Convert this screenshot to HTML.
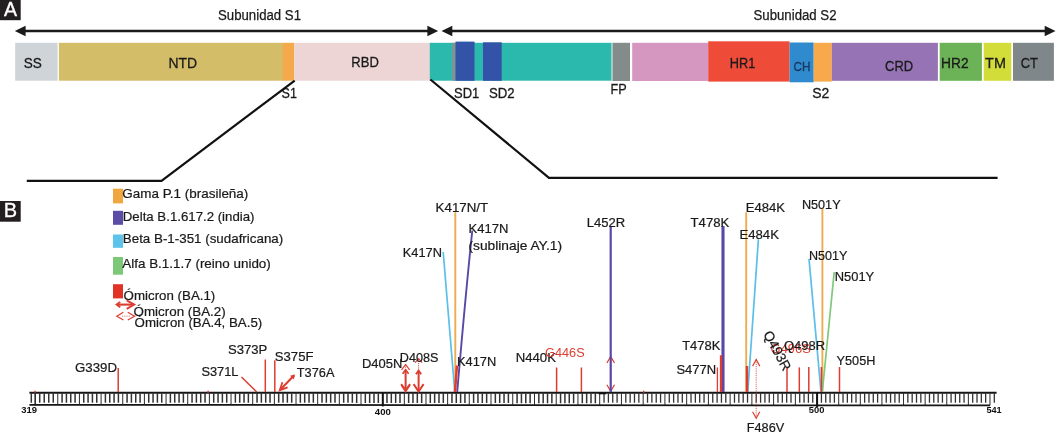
<!DOCTYPE html>
<html lang="es"><head><meta charset="utf-8"><title>Proteína S</title>
<style>
html,body{margin:0;padding:0;background:#fff;}
body{width:1058px;height:435px;overflow:hidden;}
svg{display:block;font-family:"Liberation Sans",sans-serif;}
.t{font-size:13.6px;fill:#1a1a1a;stroke:#1a1a1a;stroke-width:.22px;}
.a{font-size:13px;fill:#1a1a1a;}
.n{font-size:8.9px;font-weight:bold;fill:#111;}
</style></head><body>
<svg width="1058" height="435" viewBox="0 0 1058 435">
<rect width="1058" height="435" fill="#fff"/>

<rect x="0" y="0" width="20.7" height="20.2" fill="#231f20"/>
<text x="10.5" y="15.5" text-anchor="middle" font-size="19.5" fill="#fff" stroke="#fff" stroke-width="0.35">A</text>
<rect x="0" y="201" width="20.7" height="20.7" fill="#231f20"/>
<text x="10.5" y="217.2" text-anchor="middle" font-size="20" fill="#fff" stroke="#fff" stroke-width="0.35">B</text>
<line x1="23.6" y1="31" x2="429.4" y2="31" stroke="#1a1a1a" stroke-width="2.3"/><polygon points="14.8,31 25.6,25.7 25.6,36.3" fill="#1a1a1a"/><polygon points="438.2,31 427.4,25.7 427.4,36.3" fill="#1a1a1a"/>
<line x1="450.3" y1="31" x2="1046.7" y2="31" stroke="#1a1a1a" stroke-width="2.3"/><polygon points="441.5,31 452.3,25.7 452.3,36.3" fill="#1a1a1a"/><polygon points="1055.5,31 1044.7,25.7 1044.7,36.3" fill="#1a1a1a"/>
<text x="218" y="19.5" font-size="14" fill="#1a1a1a" stroke="#1a1a1a" stroke-width="0.25" textLength="83" lengthAdjust="spacingAndGlyphs">Subunidad S1</text>
<text x="753.5" y="19.5" font-size="14" fill="#1a1a1a" stroke="#1a1a1a" stroke-width="0.25" textLength="83" lengthAdjust="spacingAndGlyphs">Subunidad S2</text>
<rect x="15.2" y="42.8" width="42.4" height="37.9" fill="#cfd4d9"/>
<rect x="58.9" y="42.8" width="224.1" height="37.9" fill="#d4bd69"/>
<rect x="282.8" y="42.8" width="11.6" height="37.9" fill="#f4a94b"/>
<rect x="294.4" y="42.8" width="135.6" height="37.9" fill="#edd5d5"/>
<rect x="429.8" y="42.8" width="181.8" height="37.9" fill="#2cb9ad"/>
<rect x="452.2" y="42.8" width="3.3" height="37.9" fill="#8a8f90"/>
<rect x="455.5" y="41.6" width="19.0" height="39.2" fill="#3253a8"/>
<rect x="483" y="42.3" width="18.7" height="38.5" fill="#3253a8"/>
<rect x="611.6" y="42.8" width="1.0" height="38.1" fill="#a9d6d0"/>
<rect x="612.6" y="42.8" width="17.4" height="38.2" fill="#848b8b"/>
<rect x="632.2" y="42.8" width="76.0" height="38.2" fill="#d596bf"/>
<rect x="708.2" y="41.3" width="81.4" height="40.3" fill="#ee4c39"/>
<rect x="789.6" y="42.5" width="24.1" height="39.8" fill="#2f8bcd"/>
<rect x="813.7" y="42.8" width="18.1" height="38.8" fill="#f7a94c"/>
<rect x="831.8" y="42.8" width="106.1" height="38.0" fill="#9673b4"/>
<rect x="939.7" y="42.8" width="42.2" height="38.0" fill="#6bb356"/>
<rect x="983.7" y="42.8" width="27.6" height="38.0" fill="#d3dd3a"/>
<rect x="1013" y="42.8" width="40.9" height="38.0" fill="#80878a"/>
<text x="23.7" y="68.2" font-size="15.5" fill="#1a1a1a" stroke="#1a1a1a" stroke-width="0.3" textLength="18.1" lengthAdjust="spacingAndGlyphs">SS</text>
<text x="168.5" y="68.2" font-size="15.5" fill="#1a1a1a" stroke="#1a1a1a" stroke-width="0.3" textLength="28.7" lengthAdjust="spacingAndGlyphs">NTD</text>
<text x="351.3" y="66.6" font-size="15.5" fill="#1a1a1a" stroke="#1a1a1a" stroke-width="0.3" textLength="27.5" lengthAdjust="spacingAndGlyphs">RBD</text>
<text x="729.8" y="68.3" font-size="15.5" fill="#1a1a1a" stroke="#1a1a1a" stroke-width="0.3" textLength="25.5" lengthAdjust="spacingAndGlyphs">HR1</text>
<text x="793.5" y="70.9" font-size="13" fill="#17375e" stroke="#17375e" stroke-width="0.3" textLength="17" lengthAdjust="spacingAndGlyphs">CH</text>
<text x="885.1" y="71" font-size="15.5" fill="#1a1a1a" stroke="#1a1a1a" stroke-width="0.3" textLength="28.1" lengthAdjust="spacingAndGlyphs">CRD</text>
<text x="941.1" y="68" font-size="15.5" fill="#1a1a1a" stroke="#1a1a1a" stroke-width="0.3" textLength="27.5" lengthAdjust="spacingAndGlyphs">HR2</text>
<text x="985.1" y="68.3" font-size="15.5" fill="#1a1a1a" stroke="#1a1a1a" stroke-width="0.3" textLength="20.8" lengthAdjust="spacingAndGlyphs">TM</text>
<text x="1020.7" y="68" font-size="15.5" fill="#1a1a1a" stroke="#1a1a1a" stroke-width="0.3" textLength="17.2" lengthAdjust="spacingAndGlyphs">CT</text>
<text x="281.6" y="97.6" font-size="14.5" fill="#1a1a1a" stroke="#1a1a1a" stroke-width="0.3" textLength="15.3" lengthAdjust="spacingAndGlyphs">S1</text>
<text x="454" y="98" font-size="14.2" fill="#1a1a1a" stroke="#1a1a1a" stroke-width="0.3" textLength="25.2" lengthAdjust="spacingAndGlyphs">SD1</text>
<text x="489" y="98" font-size="14.2" fill="#1a1a1a" stroke="#1a1a1a" stroke-width="0.3" textLength="25.7" lengthAdjust="spacingAndGlyphs">SD2</text>
<text x="610.4" y="93.7" font-size="14.8" fill="#1a1a1a" stroke="#1a1a1a" stroke-width="0.3" textLength="16.2" lengthAdjust="spacingAndGlyphs">FP</text>
<text x="812.2" y="98.1" font-size="14.8" fill="#1a1a1a" stroke="#1a1a1a" stroke-width="0.3" textLength="17.1" lengthAdjust="spacingAndGlyphs">S2</text>
<polyline points="26.8,180.9 161.5,180.9 294.7,80.6" fill="none" stroke="#111" stroke-width="2.2" stroke-linejoin="miter"/>
<polyline points="430.4,79.5 549,177.9 997.6,177.9" fill="none" stroke="#111" stroke-width="2.2" stroke-linejoin="miter"/>
<rect x="113" y="188.7" width="10" height="14.7" fill="#f2a63f"/>
<text class="t" x="122.3" y="197.8" textLength="126" lengthAdjust="spacingAndGlyphs">Gama P.1 (brasileña)</text>
<rect x="113" y="210.8" width="10" height="14.0" fill="#5b4ca6"/>
<text class="t" x="122.8" y="221.3" textLength="131.7" lengthAdjust="spacingAndGlyphs">Delta B.1.617.2 (india)</text>
<rect x="113" y="234.5" width="10" height="13.3" fill="#5cc3ea"/>
<text class="t" x="122.8" y="242.6" textLength="160.4" lengthAdjust="spacingAndGlyphs">Beta B-1-351 (sudafricana)</text>
<rect x="113" y="257" width="10" height="17.7" fill="#7cc778"/>
<text class="t" x="122.3" y="268.4" textLength="148.5" lengthAdjust="spacingAndGlyphs">Alfa B.1.1.7 (reino unido)</text>
<rect x="113" y="284.2" width="10" height="14.2" fill="#e23125"/>
<text class="t" x="123.6" y="300" textLength="91.7" lengthAdjust="spacingAndGlyphs">Ómicron (BA.1)</text>
<text class="t" x="133.6" y="315.5" textLength="92.1" lengthAdjust="spacingAndGlyphs">Ómicron (BA.2)</text>
<text class="t" x="134.6" y="327.3" textLength="127.6" lengthAdjust="spacingAndGlyphs">Ómicron (BA.4, BA.5)</text>
<line x1="117" y1="304.6" x2="133.5" y2="304.6" stroke="#dd3d30" stroke-width="2.1"/><polyline points="120.19999999999999,301.90000000000003 116.6,304.6 120.19999999999999,307.3" fill="none" stroke="#dd3d30" stroke-width="1.9"/><polyline points="126.69999999999999,300.40000000000003 134.2,304.6 126.69999999999999,308.8" fill="none" stroke="#dd3d30" stroke-width="1.9"/>
<line x1="122" y1="316.2" x2="130" y2="316.2" stroke="#dd3d30" stroke-width="0.7" stroke-dasharray="1.2,1"/><polyline points="123.39999999999999,312.3 116.8,316.2 123.39999999999999,320.09999999999997" fill="none" stroke="#dd3d30" stroke-width="1.2"/><polyline points="127.8,312.3 134.6,316.2 127.8,320.09999999999997" fill="none" stroke="#dd3d30" stroke-width="1.2"/>
<line x1="29.4" y1="392.7" x2="996.6" y2="392.7" stroke="#151515" stroke-width="1.9"/>
<polyline points="29.4,404.8 300,404.8 420,405.2 990,405.35" fill="none" stroke="#151515" stroke-width="1.7"/>
<path d="M582.31 392.7V403.14M586.66 392.7V403.14M591.00 392.7V403.15M595.35 392.7V403.15M560.57 392.7V403.14M564.92 392.7V403.14M569.26 392.7V403.14M573.61 392.7V403.14M538.83 392.7V403.13M543.18 392.7V403.13M547.52 392.7V403.13M551.87 392.7V403.13M517.09 392.7V403.13M521.44 392.7V403.13M525.78 392.7V403.13M530.13 392.7V403.13M495.35 392.7V403.12M499.70 392.7V403.12M504.04 392.7V403.12M508.39 392.7V403.12M473.61 392.7V403.11M477.96 392.7V403.12M482.30 392.7V403.12M486.65 392.7V403.12M451.96 392.7V403.11M456.29 392.7V403.11M460.61 392.7V403.11M464.94 392.7V403.11M430.31 392.7V403.10M434.64 392.7V403.10M438.98 392.7V403.10M443.31 392.7V403.11M408.65 392.7V403.06M412.98 392.7V403.08M417.32 392.7V403.09M421.65 392.7V403.10M386.99 392.7V402.99M391.32 392.7V403.00M395.66 392.7V403.02M399.99 392.7V403.03M365.33 392.7V402.92M369.66 392.7V402.93M374.00 392.7V402.95M378.33 392.7V402.96M343.67 392.7V402.85M348.00 392.7V402.86M352.34 392.7V402.87M356.67 392.7V402.89M322.01 392.7V402.77M326.34 392.7V402.79M330.68 392.7V402.80M335.01 392.7V402.82M300.35 392.7V402.70M304.68 392.7V402.72M309.02 392.7V402.73M313.35 392.7V402.74M278.69 392.7V402.70M283.02 392.7V402.70M287.36 392.7V402.70M291.69 392.7V402.70M257.03 392.7V402.70M261.36 392.7V402.70M265.70 392.7V402.70M270.03 392.7V402.70M235.37 392.7V402.70M239.70 392.7V402.70M244.04 392.7V402.70M248.37 392.7V402.70M213.71 392.7V402.70M218.04 392.7V402.70M222.38 392.7V402.70M226.71 392.7V402.70M192.05 392.7V402.70M196.38 392.7V402.70M200.72 392.7V402.70M205.05 392.7V402.70M170.39 392.7V402.70M174.72 392.7V402.70M179.06 392.7V402.70M183.39 392.7V402.70M148.73 392.7V402.70M153.06 392.7V402.70M157.40 392.7V402.70M161.73 392.7V402.70M127.07 392.7V402.70M131.40 392.7V402.70M135.74 392.7V402.70M140.07 392.7V402.70M105.41 392.7V402.70M109.74 392.7V402.70M114.08 392.7V402.70M118.41 392.7V402.70M83.75 392.7V402.70M88.08 392.7V402.70M92.42 392.7V402.70M96.75 392.7V402.70M62.09 392.7V402.70M66.42 392.7V402.70M70.76 392.7V402.70M75.09 392.7V402.70M39.71 392.7V402.70M44.22 392.7V402.70M48.74 392.7V402.70M53.25 392.7V402.70M31.30 392.7V402.70" stroke="#333" stroke-width="1.5" fill="none"/>
<path d="M994.30 392.7V402.85M972.69 392.7V402.85M977.01 392.7V402.85M981.34 392.7V402.85M985.66 392.7V402.85M951.08 392.7V402.84M955.40 392.7V402.84M959.73 392.7V402.84M964.05 392.7V402.84M929.47 392.7V402.83M933.79 392.7V402.84M938.12 392.7V402.84M942.44 392.7V402.84M907.86 392.7V402.83M912.18 392.7V402.83M916.51 392.7V402.83M920.83 392.7V402.83M886.25 392.7V402.82M890.57 392.7V402.82M894.90 392.7V402.82M899.22 392.7V402.83M864.64 392.7V402.82M868.96 392.7V402.82M873.29 392.7V402.82M877.61 392.7V402.82M843.03 392.7V402.81M847.35 392.7V402.81M851.68 392.7V402.81M856.00 392.7V402.81M821.42 392.7V402.81M825.74 392.7V402.81M830.07 392.7V402.81M834.39 392.7V402.81M799.71 392.7V402.80M804.06 392.7V402.80M808.40 392.7V402.80M812.75 392.7V402.80M777.97 392.7V402.79M782.32 392.7V402.80M786.66 392.7V402.80M791.01 392.7V402.80M756.23 392.7V402.79M760.58 392.7V402.79M764.92 392.7V402.79M769.27 392.7V402.79M734.49 392.7V402.78M738.84 392.7V402.78M743.18 392.7V402.79M747.53 392.7V402.79M712.75 392.7V402.78M717.10 392.7V402.78M721.44 392.7V402.78M725.79 392.7V402.78M691.01 392.7V402.77M695.36 392.7V402.77M699.70 392.7V402.77M704.05 392.7V402.77M669.27 392.7V402.77M673.62 392.7V402.77M677.96 392.7V402.77M682.31 392.7V402.77M647.53 392.7V402.76M651.88 392.7V402.76M656.22 392.7V402.76M660.57 392.7V402.76M625.79 392.7V402.75M630.14 392.7V402.76M634.48 392.7V402.76M638.83 392.7V402.76M604.05 392.7V402.75M608.40 392.7V402.75M612.74 392.7V402.75M617.09 392.7V402.75" stroke="#333" stroke-width="1.3" fill="none"/>
<path d="M989.98 392.7V405.35M968.37 392.7V405.34M946.76 392.7V405.34M925.15 392.7V405.33M903.54 392.7V405.33M881.93 392.7V405.32M860.32 392.7V405.32M838.71 392.7V405.31M817.10 392.7V405.30M795.36 392.7V405.30M773.62 392.7V405.29M751.88 392.7V405.29M730.14 392.7V405.28M708.40 392.7V405.28M686.66 392.7V405.27M664.92 392.7V405.26M643.18 392.7V405.26M621.44 392.7V405.25M599.70 392.7V405.25M577.96 392.7V405.24M556.22 392.7V405.24M534.48 392.7V405.23M512.74 392.7V405.22M491.00 392.7V405.22M469.26 392.7V405.21M447.64 392.7V405.21M425.98 392.7V405.20M404.32 392.7V405.15M382.66 392.7V405.08M361.00 392.7V405.00M339.34 392.7V404.93M317.68 392.7V404.86M296.02 392.7V404.80M274.36 392.7V404.80M252.70 392.7V404.80M231.04 392.7V404.80M209.38 392.7V404.80M187.72 392.7V404.80M166.06 392.7V404.80M144.40 392.7V404.80M122.74 392.7V404.80M101.08 392.7V404.80M79.42 392.7V404.80M57.76 392.7V404.80M35.20 392.7V404.80" stroke="#2a2a2a" stroke-width="1.0" fill="none"/>
<line x1="382.8" y1="392.7" x2="382.8" y2="406.40000000000003" stroke="#111" stroke-width="2"/>
<line x1="817.1" y1="392.7" x2="817.1" y2="407.0" stroke="#111" stroke-width="2"/>
<line x1="35.2" y1="392.7" x2="35.2" y2="405.6" stroke="#222" stroke-width="1.2"/>
<text class="n" x="21.2" y="413.4" textLength="15.8" lengthAdjust="spacingAndGlyphs">319</text>
<text class="n" x="374.8" y="414.6" textLength="16" lengthAdjust="spacingAndGlyphs">400</text>
<text class="n" x="808.8" y="412.9" textLength="15.6" lengthAdjust="spacingAndGlyphs">500</text>
<text class="n" x="986.4" y="413.1" textLength="15.3" lengthAdjust="spacingAndGlyphs">541</text>
<rect x="598.6" y="392.7" width="7.5" height="1.6" fill="#111"/>
<line x1="443.2" y1="252" x2="454.8" y2="392" stroke="#5bbfe8" stroke-width="1.7"/>
<line x1="455.3" y1="212.3" x2="455.3" y2="392" stroke="#efab50" stroke-width="1.9"/>
<path d="M472.3 230.5 Q466 290 457.2 392" fill="none" stroke="#5a48a8" stroke-width="1.9"/>
<line x1="723.0" y1="226" x2="723.0" y2="392" stroke="#5a48a8" stroke-width="3.1"/>
<line x1="746.2" y1="212.3" x2="746.2" y2="392" stroke="#efab50" stroke-width="1.9"/>
<line x1="758.4" y1="239.3" x2="747.8" y2="392" stroke="#5bbfe8" stroke-width="1.7"/>
<line x1="822.4" y1="209" x2="822.4" y2="392" stroke="#efab50" stroke-width="1.9"/>
<line x1="809" y1="258.8" x2="821" y2="392" stroke="#5bbfe8" stroke-width="1.7"/>
<line x1="834.2" y1="272.2" x2="822.3" y2="392" stroke="#7fc97d" stroke-width="1.7"/>
<line x1="118.2" y1="368" x2="118.2" y2="392" stroke="#dd3d30" stroke-width="1.5"/>
<line x1="241.5" y1="377" x2="256.7" y2="392" stroke="#dd3d30" stroke-width="1.5"/>
<line x1="265.3" y1="359.5" x2="265.3" y2="392" stroke="#dd3d30" stroke-width="1.5"/>
<line x1="274.8" y1="360.3" x2="274.8" y2="392" stroke="#dd3d30" stroke-width="1.5"/>
<line x1="280.50" y1="389.48" x2="294.20" y2="375.32" stroke="#dd3d30" stroke-width="2"/><polyline points="287.60,387.31 279.80,390.20 282.43,382.31" fill="none" stroke="#dd3d30" stroke-width="1.8"/><polygon points="293.92,379.50 294.90,374.60 290.04,375.74" fill="#dd3d30"/>
<line x1="457" y1="365.5" x2="454.9" y2="392" stroke="#dd3d30" stroke-width="2.5"/>
<line x1="556.6" y1="367.5" x2="556.6" y2="392" stroke="#dd3d30" stroke-width="1.5"/>
<line x1="581.4" y1="367.5" x2="581.4" y2="392" stroke="#dd3d30" stroke-width="1.5"/>
<line x1="717.4" y1="367.4" x2="717.4" y2="392" stroke="#dd3d30" stroke-width="1.3"/>
<line x1="721.0" y1="355.3" x2="721.0" y2="392" stroke="#dd3d30" stroke-width="2.3"/>
<line x1="747" y1="366" x2="747" y2="392" stroke="#dd3d30" stroke-width="2.4"/>
<line x1="787" y1="367.4" x2="787" y2="392" stroke="#dd3d30" stroke-width="1.5"/>
<line x1="799.3" y1="367.4" x2="799.3" y2="392" stroke="#dd3d30" stroke-width="1.5"/>
<line x1="808.8" y1="367" x2="808.8" y2="392" stroke="#dd3d30" stroke-width="1.5"/>
<line x1="821.4" y1="367" x2="821.4" y2="392" stroke="#dd3d30" stroke-width="1.6"/>
<line x1="839.5" y1="367" x2="839.5" y2="392" stroke="#dd3d30" stroke-width="1.5"/>
<line x1="405.6" y1="364.4" x2="405.6" y2="392" stroke="#dd3d30" stroke-width="0.8" stroke-dasharray="1.2,1"/><polyline points="401.6,369.9 405.6,364.4 409.6,369.9" fill="none" stroke="#dd3d30" stroke-width="1.2"/><polyline points="401.0,385 405.6,392 410.20000000000005,385" fill="none" stroke="#dd3d30" stroke-width="1.2"/>
<line x1="405.6" y1="369.8" x2="405.6" y2="390" stroke="#dd3d30" stroke-width="2"/><polyline points="402.6,373.8 405.6,369.8 408.6,373.8" fill="none" stroke="#dd3d30" stroke-width="1.7"/><polyline points="401.20000000000005,384 405.6,390 410.0,384" fill="none" stroke="#dd3d30" stroke-width="1.7"/>
<line x1="418.6" y1="358.6" x2="418.6" y2="371" stroke="#dd3d30" stroke-width="0.9" stroke-dasharray="1.2,1"/><polyline points="415.1,362.6 418.6,358.6 422.1,362.6" fill="none" stroke="#dd3d30" stroke-width="1.1"/>
<line x1="418.6" y1="370.7" x2="418.6" y2="391.6" stroke="#dd3d30" stroke-width="2"/><polyline points="416.0,374.2 418.6,370.7 421.20000000000005,374.2" fill="none" stroke="#dd3d30" stroke-width="1.9"/><polyline points="413.6,384.1 418.6,391.6 423.6,384.1" fill="none" stroke="#dd3d30" stroke-width="1.9"/>
<line x1="610.7" y1="356.5" x2="610.7" y2="391.3" stroke="#dd3d30" stroke-width="0.9"/><polyline points="606.9000000000001,363.0 610.7,356.5 614.5,363.0" fill="none" stroke="#dd3d30" stroke-width="1.2"/><polyline points="606.9000000000001,384.8 610.7,391.3 614.5,384.8" fill="none" stroke="#dd3d30" stroke-width="1.2"/>
<line x1="610.7" y1="226" x2="610.7" y2="392" stroke="#5a48a8" stroke-width="2.2"/>
<line x1="756.2" y1="359.5" x2="756.2" y2="418.3" stroke="#dd3d30" stroke-width="0.8" stroke-dasharray="1.2,1"/><polyline points="752.6,366.1 756.2,359.5 759.8000000000001,366.1" fill="none" stroke="#dd3d30" stroke-width="1.15"/><polyline points="752.6,411.7 756.2,418.3 759.8000000000001,411.7" fill="none" stroke="#dd3d30" stroke-width="1.15"/>
<rect x="34.4" y="390.7" width="1.4" height="2" fill="#dd3d30"/>
<rect x="207.4" y="390.7" width="1.4" height="2" fill="#dd3d30"/>
<rect x="643.0" y="390.7" width="1.4" height="2" fill="#dd3d30"/>
<text class="t" x="75" y="372.3" textLength="42" lengthAdjust="spacingAndGlyphs" >G339D</text>
<text class="t" x="201.4" y="376.2" textLength="37.1" lengthAdjust="spacingAndGlyphs" >S371L</text>
<text class="t" x="227.9" y="354.2" textLength="39.4" lengthAdjust="spacingAndGlyphs" >S373P</text>
<text class="t" x="274.8" y="361" textLength="38.7" lengthAdjust="spacingAndGlyphs" >S375F</text>
<text class="t" x="296.8" y="376.7" textLength="37.6" lengthAdjust="spacingAndGlyphs" >T376A</text>
<text class="t" x="362" y="368.2" textLength="40.4" lengthAdjust="spacingAndGlyphs" >D405N</text>
<text class="t" x="399.8" y="362.3" textLength="38.6" lengthAdjust="spacingAndGlyphs" >D408S</text>
<text class="t" x="457" y="366" textLength="39.3" lengthAdjust="spacingAndGlyphs" >K417N</text>
<text class="t" x="435.6" y="212.3" textLength="52.6" lengthAdjust="spacingAndGlyphs" >K417N/T</text>
<text class="t" x="468.5" y="233" textLength="39.9" lengthAdjust="spacingAndGlyphs" >K417N</text>
<text class="t" x="468.5" y="250" textLength="93.5" lengthAdjust="spacingAndGlyphs" >(sublinaje AY.1)</text>
<text class="t" x="402.8" y="257" textLength="39.2" lengthAdjust="spacingAndGlyphs" >K417N</text>
<text class="t" x="586.7" y="226.5" textLength="38.5" lengthAdjust="spacingAndGlyphs" >L452R</text>
<text class="t" x="515.7" y="361.7" textLength="40.3" lengthAdjust="spacingAndGlyphs" >N440K</text>
<text class="t" x="545" y="357.4" textLength="39.7" lengthAdjust="spacingAndGlyphs" style="fill:#dd3d30;stroke:none">G446S</text>
<text class="t" x="690.6" y="227.4" textLength="38.7" lengthAdjust="spacingAndGlyphs" >T478K</text>
<text class="t" x="745.7" y="212.3" textLength="39.3" lengthAdjust="spacingAndGlyphs" >E484K</text>
<text class="t" x="739.4" y="239.3" textLength="39.6" lengthAdjust="spacingAndGlyphs" >E484K</text>
<text class="t" x="801.9" y="209" textLength="38.7" lengthAdjust="spacingAndGlyphs" >N501Y</text>
<text class="t" x="809" y="259.5" textLength="38.4" lengthAdjust="spacingAndGlyphs" >N501Y</text>
<text class="t" x="834.7" y="280.5" textLength="39.5" lengthAdjust="spacingAndGlyphs" >N501Y</text>
<text class="t" x="682.2" y="350.1" textLength="38.2" lengthAdjust="spacingAndGlyphs" >T478K</text>
<text class="t" x="676.4" y="374.4" textLength="39.8" lengthAdjust="spacingAndGlyphs" >S477N</text>
<text class="t" x="746.8" y="431.8" textLength="37.4" lengthAdjust="spacingAndGlyphs" >F486V</text>
<text class="t" x="770.6" y="353" textLength="40.2" lengthAdjust="spacingAndGlyphs" style="fill:#dd3d30;stroke:none">G496S</text>
<text class="t" x="784" y="350.2" textLength="41" lengthAdjust="spacingAndGlyphs" >Q498R</text>
<text class="t" x="836.6" y="365.4" textLength="38.8" lengthAdjust="spacingAndGlyphs" >Y505H</text>
<text class="t" transform="translate(763,334) rotate(61.5)" x="0" y="0" textLength="43" lengthAdjust="spacingAndGlyphs" stroke="#1a1a1a" stroke-width="0.3">Q493R</text>
</svg></body></html>
